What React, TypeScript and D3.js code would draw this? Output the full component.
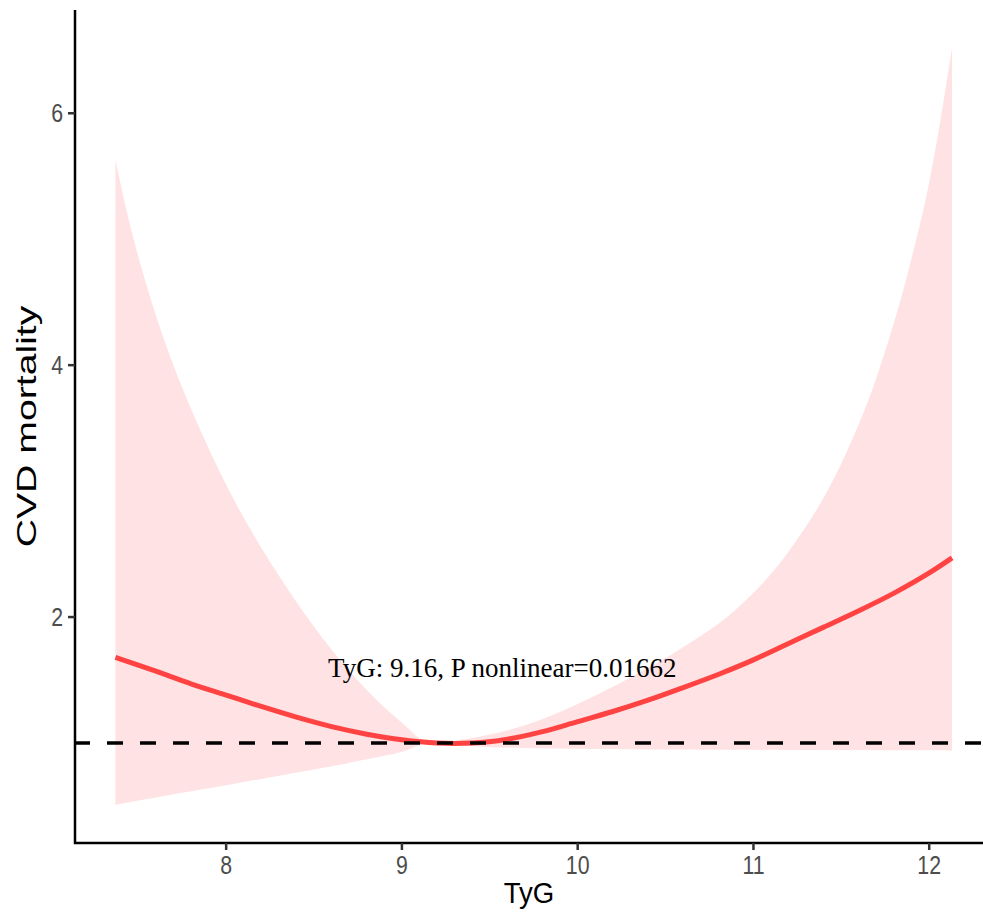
import React from 'react'
import * as d3 from 'd3'

// estimated HR curve
const lineX = [7.37, 7.6, 7.8, 8.0, 8.2, 8.4, 8.6, 8.8, 9.0, 9.2, 9.3, 9.4, 9.6, 9.8, 10.0, 10.2, 10.4, 10.6, 10.81, 11.0, 11.2, 11.4, 11.6, 11.8, 12.0, 12.13]
const lineY = [1.68, 1.57, 1.47, 1.38, 1.29, 1.205, 1.13, 1.07, 1.025, 1.0, 0.997, 1.0, 1.03, 1.09, 1.17, 1.25, 1.34, 1.44, 1.55, 1.66, 1.79, 1.92, 2.05, 2.19, 2.35, 2.47]

// confidence band
const bandX = [7.37, 7.45, 7.55, 7.65, 7.75, 7.9, 8.0, 8.2, 8.4, 8.6, 8.8, 9.0, 9.16, 9.4, 9.7, 10.0, 10.3, 10.6, 10.9, 11.2, 11.5, 11.7, 11.9, 12.0, 12.13]
const bandUpper = [5.63, 5.13, 4.62, 4.19, 3.82, 3.34, 3.05, 2.55, 2.12, 1.74, 1.42, 1.16, 1.0, 1.04, 1.14, 1.31, 1.52, 1.76, 2.06, 2.52, 3.22, 3.90, 4.85, 5.45, 6.52]
const bandLower = [0.51, 0.53, 0.555, 0.58, 0.605, 0.64, 0.665, 0.715, 0.765, 0.815, 0.87, 0.93, 1.0, 0.975, 0.96, 0.955, 0.95, 0.948, 0.946, 0.945, 0.944, 0.943, 0.942, 0.942, 0.941]

const xTicks = [8, 9, 10, 11, 12]
const yTicks = [2, 4, 6]
const refLine = 1
const note = 'TyG: 9.16, P nonlinear=0.01662'
const noteAt = { x: 8.58, y: 1.525 }

export default function App() {
  const width = 983
  const height = 912
  const left = 75, top = 10, bottom = 843

  const x = d3.scaleLinear().domain([7.14, 12.306]).range([left, width])
  const y = d3.scaleLinear().domain([0.206, 6.82]).range([bottom, top])

  const band = bandX.map((v, i) => ({ x: v, lo: bandLower[i], hi: bandUpper[i] }))
  const pts = lineX.map((v, i) => ({ x: v, y: lineY[i] }))

  const area = d3.area<any>()
    .x(d => x(d.x)).y0(d => y(d.lo)).y1(d => y(d.hi))
    .curve(d3.curveMonotoneX)
  const line = d3.line<any>().x(d => x(d.x)).y(d => y(d.y)).curve(d3.curveMonotoneX)

  const sans = 'Liberation Sans, Arial, sans-serif'

  return (
    <svg width={width} height={height} style={{ position: 'absolute', left: 0, top: 0, background: '#fff' }}>
      <path d={area(band) || ''} fill="#ffe2e3" />
      <path d={line(pts) || ''} fill="none" stroke="#ff4343" strokeWidth={5} />
      <line x1={74} x2={width} y1={y(refLine)} y2={y(refLine)} stroke="#000" strokeWidth={3.5} strokeDasharray="16,17" />
      <text x={x(noteAt.x)} y={y(noteAt.y)} fontFamily="Liberation Serif, Times New Roman, serif" fontSize={27} fill="#000">{note}</text>

      {/* axes */}
      <line x1={left} x2={left} y1={top} y2={bottom + 1} stroke="#000" strokeWidth={2.5} />
      <line x1={left - 1} x2={width} y1={bottom} y2={bottom} stroke="#000" strokeWidth={2.5} />
      {xTicks.map(t => (
        <g key={t}>
          <line x1={x(t)} x2={x(t)} y1={bottom} y2={bottom + 7} stroke="#333" strokeWidth={2.5} />
          <text transform={`translate(${x(t)},${bottom + 31}) scale(0.82,1)`} textAnchor="middle" fontFamily={sans} fontSize={26} fill="#4d4d4d">{t}</text>
        </g>
      ))}
      {yTicks.map(t => (
        <g key={t}>
          <line x1={left - 7} x2={left} y1={y(t)} y2={y(t)} stroke="#333" strokeWidth={2.5} />
          <text transform={`translate(${left - 12},${y(t) + 9}) scale(0.82,1)`} textAnchor="end" fontFamily={sans} fontSize={26} fill="#4d4d4d">{t}</text>
        </g>
      ))}
      <text transform={`translate(${(left + width) / 2},903) scale(0.92,1)`} textAnchor="middle" fontFamily={sans} fontSize={30} fill="#000">TyG</text>
      <text transform={`translate(36,${(top + bottom) / 2}) rotate(-90) scale(1.4,1)`} textAnchor="middle" fontFamily={sans} fontSize={28} fill="#000">CVD mortality</text>
    </svg>
  )
}
